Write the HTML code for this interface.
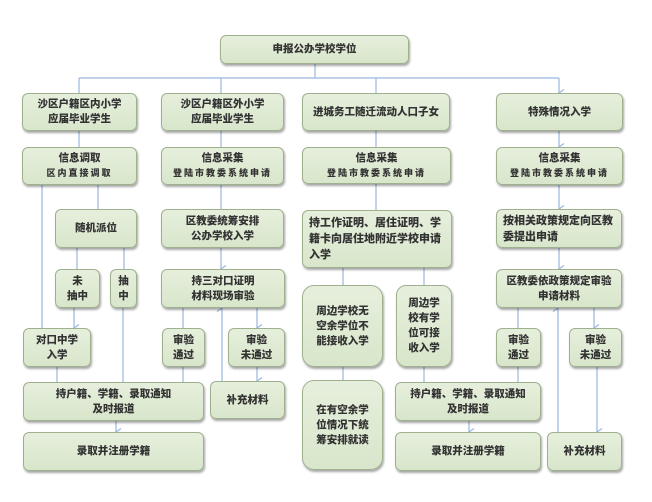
<!DOCTYPE html>
<html><head><meta charset="utf-8"><style>
body{margin:0;width:652px;height:502px;background:#fff;position:relative;overflow:hidden;font-family:"Liberation Sans","Noto Sans CJK SC",sans-serif;}
.b{position:absolute;box-sizing:border-box;background:linear-gradient(#e6efdc,#d8e6cb);border:1px solid #9fb08f;border-radius:6px;box-shadow:1px 2px 2px rgba(0,0,0,0.35);display:flex;align-items:center;justify-content:center;text-align:center;font-size:10.5px;font-weight:900;color:#333;line-height:15px;}
.l{text-align:left;justify-content:flex-start;padding-left:6px;font-size:11px;line-height:16px;}
.s{letter-spacing:2px;font-size:9px;}
svg{position:absolute;left:0;top:0;}
</style></head><body>
<svg width="652" height="502" fill="none" stroke="#9ab7dc" stroke-width="1.2">
<defs><marker id="a" markerWidth="8" markerHeight="8" refX="4" refY="6" orient="auto-start-reverse" markerUnits="userSpaceOnUse"><path d="M0.5,1 L4,6 L7.5,1" stroke="#9ab7dc" fill="none"/></marker></defs>
<path d="M315 63V78M79 78H559"/>
<path d="M79 78V93M221 78V93M376 78V93M559 78V93" marker-end="url(#a)"/>
<path d="M79 131V147M221 131V147M376 131V147M559 131V147" marker-end="url(#a)"/>
<path d="M98 185V209M221 185V209M376 184V210M559 185V209" marker-end="url(#a)"/>
<path d="M42 185V328M74 308V328" marker-end="url(#a)"/>
<path d="M77 248V269M124 248V269M221 248V269" marker-end="url(#a)"/>
<path d="M183 308V328M257 308V328" marker-end="url(#a)"/>
<path d="M57 367V382M123 308V382M183 367V382M257 367V381" marker-end="url(#a)"/>
<path d="M222 381V308" marker-end="url(#a)"/>
<path d="M116 421V432" marker-end="url(#a)"/>
<path d="M343 268V285M424 268V285M559 248V269" marker-end="url(#a)"/>
<path d="M518 308V328M594 308V328" marker-end="url(#a)"/>
<path d="M343 367V380M424 367V382M518 367V382M597 367V432" marker-end="url(#a)"/>
<path d="M469 421V432" marker-end="url(#a)"/>
<path d="M558 432V308" marker-end="url(#a)"/>
</svg>
<div class="b" style="left:220px;top:35px;width:189px;height:29px">申报公办学校学位</div>
<div class="b" style="left:22px;top:93px;width:115px;height:38px">沙区户籍区内小学<br>应届毕业学生</div>
<div class="b" style="left:161px;top:93px;width:123px;height:38px">沙区户籍区外小学<br>应届毕业学生</div>
<div class="b" style="left:302px;top:93px;width:148px;height:38px">进城务工随迁流动人口子女</div>
<div class="b" style="left:496px;top:93px;width:127px;height:38px">特殊情况入学</div>
<div class="b" style="left:22px;top:147px;width:115px;height:38px"><div>信息调取<br><span class="s">区内直接调取</span></div></div>
<div class="b" style="left:161px;top:147px;width:123px;height:38px"><div>信息采集<br><span class="s">登陆市教委系统申请</span></div></div>
<div class="b" style="left:302px;top:147px;width:149px;height:37px"><div>信息采集<br><span class="s">登陆市教委系统申请</span></div></div>
<div class="b" style="left:496px;top:147px;width:127px;height:38px"><div>信息采集<br><span class="s">登陆市教委系统申请</span></div></div>
<div class="b" style="left:55px;top:209px;width:82px;height:39px">随机派位</div>
<div class="b" style="left:161px;top:209px;width:123px;height:39px">区教委统筹安排<br>公办学校入学</div>
<div class="b l" style="left:302px;top:210px;width:150px;height:58px">持工作证明、居住证明、学<br>籍卡向居住地附近学校申请<br>入学</div>
<div class="b l" style="left:496px;top:209px;width:126px;height:39px">按相关政策规定向区教<br>委提出申请</div>
<div class="b" style="left:55px;top:269px;width:45px;height:39px">未<br>抽中</div>
<div class="b" style="left:110px;top:269px;width:27px;height:39px">抽<br>中</div>
<div class="b" style="left:161px;top:269px;width:124px;height:39px">持三对口证明<br>材料现场审验</div>
<div class="b" style="left:302px;top:285px;width:81px;height:82px;border-radius:12px">周边学校无<br>空余学位不<br>能接收入学</div>
<div class="b" style="left:396px;top:285px;width:56px;height:82px;border-radius:10px">周边学<br>校有学<br>位可接<br>收入学</div>
<div class="b" style="left:496px;top:269px;width:126px;height:39px">区教委依政策规定审验<br>申请材料</div>
<div class="b" style="left:23px;top:328px;width:68px;height:39px">对口中学<br>入学</div>
<div class="b" style="left:162px;top:328px;width:43px;height:39px">审验<br>通过</div>
<div class="b" style="left:228px;top:328px;width:57px;height:39px">审验<br>未通过</div>
<div class="b" style="left:496px;top:328px;width:45px;height:39px">审验<br>通过</div>
<div class="b" style="left:569px;top:328px;width:53px;height:39px">审验<br>未通过</div>
<div class="b" style="left:23px;top:382px;width:181px;height:39px">持户籍、学籍、录取通知<br>及时报道</div>
<div class="b" style="left:210px;top:381px;width:75px;height:38px">补充材料</div>
<div class="b" style="left:302px;top:380px;width:81px;height:90px;border-radius:12px">在有空余学<br>位情况下统<br>筹安排就读</div>
<div class="b" style="left:395px;top:382px;width:146px;height:39px">持户籍、学籍、录取通知<br>及时报道</div>
<div class="b" style="left:23px;top:432px;width:181px;height:39px">录取并注册学籍</div>
<div class="b" style="left:395px;top:432px;width:146px;height:39px">录取并注册学籍</div>
<div class="b" style="left:547px;top:432px;width:75px;height:39px">补充材料</div>
</body></html>
